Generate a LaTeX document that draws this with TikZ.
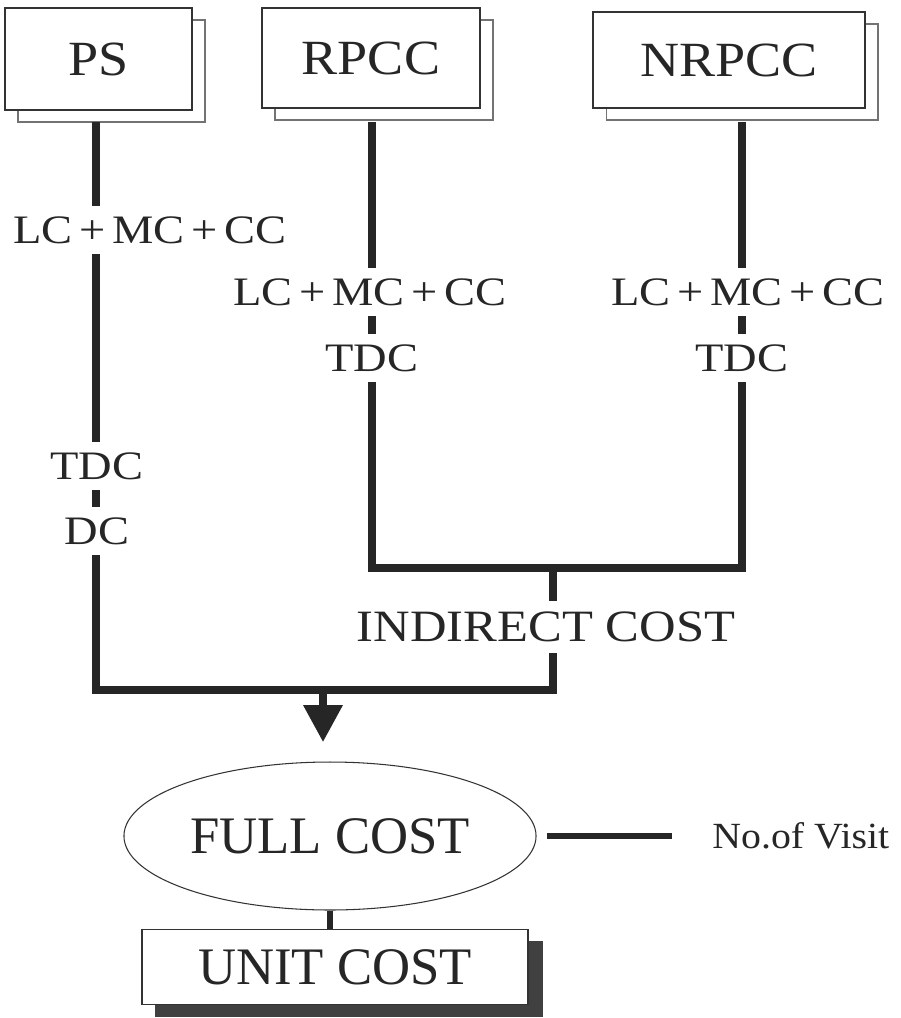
\documentclass[tikz,border=0pt]{standalone}
\usepackage{fontspec}
\setmainfont{Liberation Serif}
\usetikzlibrary{shapes.geometric,shadows,arrows.meta}

\begin{document}
\begin{tikzpicture}[x=0.02cm, y=-0.02cm,
  centrebox/.style={draw=black!80, line width=0.8pt, fill=white, text=black!85,
    copy shadow={shadow xshift=0.26cm, shadow yshift=-0.24cm, draw=black!55, fill=white, line width=0.6pt},
    font=\fontsize{28}{30}\selectfont\addfontfeature{FakeStretch=1.1}},
  costlab/.style={fill=white, text=black!85, inner xsep=2pt, inner ysep=6pt,
    font=\fontsize{23}{25}\selectfont\addfontfeature{FakeStretch=1.15}},
  flow/.style={draw=black!85, line width=4pt}]
  \useasboundingbox (0,0) rectangle (901,1018);
  \node[centrebox, minimum width=3.74cm, minimum height=2.04cm] (ps) at (98.5,59) {PS};
  \node[centrebox, minimum width=4.36cm, minimum height=2cm] (rpcc) at (371,58) {RPCC};
  \node[centrebox, minimum width=5.44cm, minimum height=1.92cm] (nrpcc) at (729,60) {NRPCC};
  \coordinate (pstop) at (96,122);
  \coordinate (rptop) at (372,122);
  \coordinate (nrtop) at (742,122);
  \coordinate (psturn) at (96,690);
  \coordinate (join) at (553,690);
  \coordinate (mid) at (553,568);
  \coordinate (rpturn) at (372,568);
  \coordinate (nrturn) at (742,568);
  \coordinate (arrtop) at (323,690);
  \coordinate (arrtip) at (323,742);
  \draw[flow] (pstop) -- (psturn) -- (join) -- (mid);
  \draw[flow] (rptop) -- (rpturn) -- (nrturn) -- (nrtop);
  \draw[flow, -{Triangle[width=0.76cm, length=0.74cm]}] (arrtop) -- (arrtip);
  \node[costlab] (pslc) at (150,230) {LC\,+\,MC\,+\,CC};
  \node[costlab] (pstdc) at (97,466) {TDC};
  \node[costlab] (psdc) at (97,531) {DC};
  \node[costlab] (rplc) at (370,292) {LC\,+\,MC\,+\,CC};
  \node[costlab] (rptdc) at (372,358) {TDC};
  \node[costlab] (nrlc) at (748,292) {LC\,+\,MC\,+\,CC};
  \node[costlab] (nrtdc) at (742,358) {TDC};
  \node[costlab, font=\fontsize{25.5}{28}\selectfont\addfontfeature{FakeStretch=1.13}] (ind) at (546,627) {INDIRECT COST};
  \node[ellipse, draw=black!80, line width=0.6pt, minimum width=8.2cm, minimum height=2.96cm,
    text=black!85, font=\fontsize{30}{32}\selectfont] (full) at (330,836) {FULL COST};
  \node[anchor=west, inner sep=0pt, text=black!85, font=\fontsize{21}{24}\selectfont\addfontfeature{FakeStretch=1.08}] (visit) at (712,836) {No.of Visit};
  \node[centrebox, minimum width=7.72cm, minimum height=1.5cm,
    copy shadow={shadow xshift=0.28cm, shadow yshift=-0.24cm, draw=black!75, fill=black!75},
    font=\fontsize{30}{32}\selectfont] (unit) at (335,967) {UNIT COST};
  \draw[flow, line width=3.5pt, shorten <=0.2cm, shorten >=0.8cm] (full.east) -- (visit.west);
  \draw[flow, line width=3.5pt] (full.south) -- (full.south |- unit.north);
\end{tikzpicture}
\end{document}
